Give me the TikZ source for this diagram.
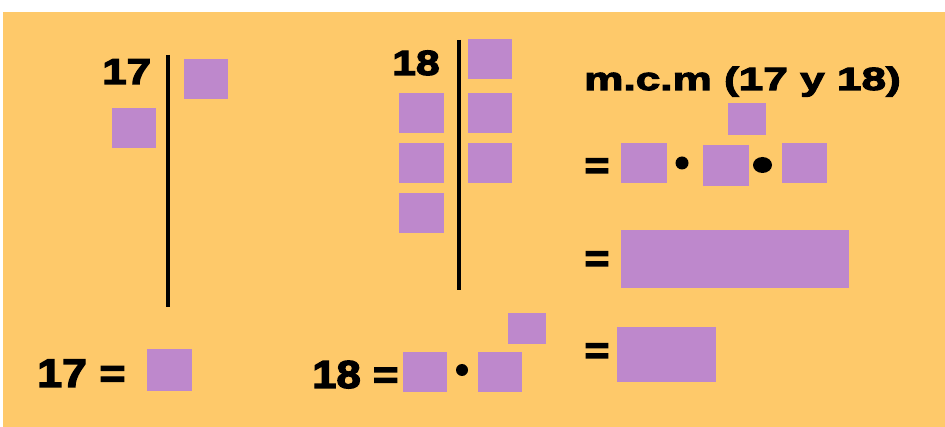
\documentclass[tikz,border=0pt]{standalone}
\usepackage{fontspec}
\newfontfamily\heavy{Liberation Sans Bold}[FakeBold=3.5,FakeStretch=1.12]
\newfontfamily\heavywide{Liberation Sans Bold}[FakeBold=3.5,FakeStretch=1.22]
\newfontfamily\heavymcm{Liberation Sans Bold}[FakeBold=3.5,FakeStretch=1.38]
\definecolor{bg}{HTML}{FEC96A}
\definecolor{purp}{HTML}{BE88CC}
\begin{document}
\begin{tikzpicture}[x=1pt,y=-1pt,
  sq/.style={fill=purp, draw=none, inner sep=0pt, rectangle},
  txt/.style={inner sep=0pt, text=black, anchor=base west},
  eq/.style={inner sep=0pt, text=black, font=\heavy\fontsize{38}{38}\selectfont},
  rule/.style={line width=4.5pt, draw=black}]
\fill[white] (0,0) rectangle (945,427);
\fill[bg] (3,12) rectangle (945,427);
\useasboundingbox (0,0) rectangle (945,427);

% ---------- left: 17 ----------
\node[txt, font=\heavywide\fontsize{36}{36}\selectfont] (t17) at (102,84) {17};
\coordinate (v1a) at (168,55);
\coordinate (v1b) at (168,307);
\draw[rule] (v1a) -- (v1b);
\node[sq, minimum width=44pt, minimum height=40pt] (a1) at (206,79) {};
\node[sq, minimum width=44pt, minimum height=40pt] (a2) at (134,128) {};
\node[txt, font=\heavy\fontsize{40}{40}\selectfont] (e17) at (37,387) {17 =};
\node[sq, minimum width=45pt, minimum height=42pt] (a3) at (169.5,370) {};

% ---------- middle: 18 ----------
\node[txt, font=\heavywide\fontsize{35}{35}\selectfont] (t18) at (392,75) {18};
\coordinate (v2a) at (459,40);
\coordinate (v2b) at (459,290);
\draw[rule] (v2a) -- (v2b);
\node[sq, minimum width=44pt, minimum height=40pt] (b1) at (490,59) {};
\node[sq, minimum width=44pt, minimum height=40pt] (b2) at (490,113) {};
\node[sq, minimum width=44pt, minimum height=40pt] (b3) at (490,163) {};
\node[sq, minimum width=45pt, minimum height=40pt] (b4) at (421.5,113) {};
\node[sq, minimum width=45pt, minimum height=40pt] (b5) at (421.5,163.5) {};
\node[sq, minimum width=45pt, minimum height=40pt] (b6) at (421,213) {};
\node[txt, font=\heavy\fontsize{39}{39}\selectfont] (e18) at (312,388) {18 =};
\node[sq, minimum width=44pt, minimum height=40pt] (b7) at (425,372) {};
\fill[black] (462,370) circle (6pt);
\node[sq, minimum width=44pt, minimum height=40pt] (b8) at (500,372) {};
\node[sq, minimum width=38pt, minimum height=31pt] (b9) at (527,328.5) {};

% ---------- right: m.c.m ----------
\node[txt, font=\heavymcm\fontsize{32}{32}\selectfont] (mcm) at (584,90) {m.c.m (17 y 18)};
\node[eq] (q1) at (597,168.5) {=};
\node[sq, minimum width=46pt, minimum height=40pt] (c1) at (644,163) {};
\fill[black] (682,163) circle (6.5pt);
\node[sq, minimum width=46pt, minimum height=41pt] (c2) at (726,165.5) {};
\node[sq, minimum width=38pt, minimum height=32pt] (c3) at (747,119) {};
\fill[black] (762.5,165) ellipse (9.5pt and 8pt);
\node[sq, minimum width=45pt, minimum height=40pt] (c4) at (804.5,163) {};
\node[eq] (q2) at (597,261.5) {=};
\node[sq, minimum width=228pt, minimum height=58pt] (c5) at (735,259) {};
\node[eq] (q3) at (597,353.5) {=};
\node[sq, minimum width=99pt, minimum height=55pt] (c6) at (666.5,354.5) {};
\end{tikzpicture}
\end{document}
